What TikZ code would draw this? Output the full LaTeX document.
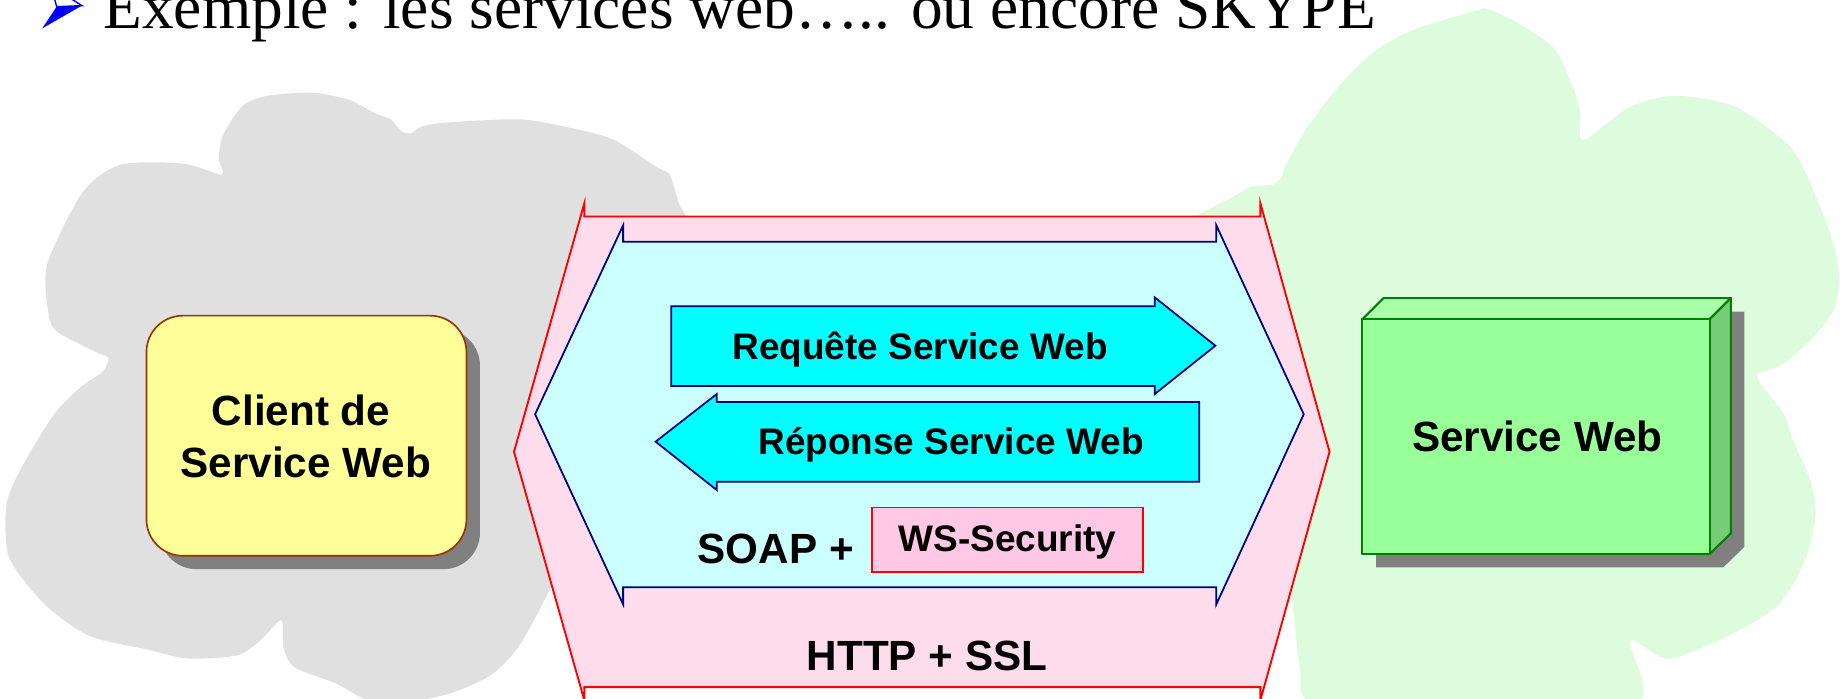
\documentclass[tikz,border=0pt]{standalone}
\usepackage{fontspec}
\setmainfont{Liberation Serif}
\setsansfont{Liberation Sans}
\definecolor{cloudgrey}{HTML}{E0E0E0}
\definecolor{cloudgreen}{HTML}{DDFCDD}
\definecolor{pinkfill}{HTML}{FDDCEC}
\definecolor{cyanlight}{HTML}{CCFFFF}
\definecolor{cyanarrow}{HTML}{00FFFF}
\definecolor{navyline}{HTML}{000080}
\definecolor{wsfill}{HTML}{FFC8E4}
\definecolor{yellowbox}{HTML}{FFFF99}
\definecolor{brownline}{HTML}{993300}
\definecolor{shadowgrey}{HTML}{808080}
\definecolor{cubefront}{HTML}{99FF99}
\definecolor{cubetop}{HTML}{AAFFAA}
\definecolor{cuberight}{HTML}{77CC77}
\definecolor{cubeline}{HTML}{008000}
\definecolor{bulletblue}{HTML}{0000FF}
\begin{document}
\begin{tikzpicture}[x=1pt,y=-1pt,
  lbls/.style={font=\sffamily\bfseries\fontsize{31.5}{38}\selectfont, inner sep=0pt, anchor=base},
  lbll/.style={font=\sffamily\bfseries\fontsize{36}{43.7}\selectfont, inner sep=0pt, anchor=base, align=center},
  redline/.style={draw=red, line width=1.6pt, line join=miter},
  navy/.style={draw=navyline, line width=1.5pt, line join=miter},
  blockarrow/.style={navy, fill=cyanarrow},
  cubeedge/.style={draw=cubeline, line width=1.8pt, line join=round}]
\clip (0,0) rectangle (1568,595);
\useasboundingbox (0,0) rectangle (1568,595);

% title bullet and text
\draw[bulletblue, fill=white, line width=1.2pt, line join=miter] (48.3,5.7) -- (69.8,4.8) -- (56,-4) -- (44,-10) -- cycle;
\fill[bulletblue] (48.3,5.7) -- (69.8,4.8) -- (36,24.2) -- cycle;
\node[anchor=base west, inner sep=0pt, font=\fontsize{54}{60}\selectfont] (title) at (88,24) {Exemple : les services web….. ou encore SKYPE};

% grey cloud
\fill[cloudgrey] plot[smooth cycle, tension=0.45] coordinates {
 (189,148.8) (186.4,135.3) (190,115.2) (207,90) (228,81.6) (266,79) (297,85)
 (320,96.7) (333,101.8) (342,111.8) (350,113.5) (359.5,107.8) (380,104.5)
 (445,101.8) (498.5,111.8) (525,120) (559,142) (570.6,148.8) (578,172)
 (585,200) (560,320) (500,440) (462.2,514.9) (441.3,551.9) (418.4,575.2)
 (380,592) (323.4,600) (285.3,582) (251,568.6) (241.6,551.9) (239.7,528.4)
 (220.7,546.8) (201.6,558.6) (159.8,561.2) (125.5,553.5) (76,541.8)
 (38,514.9) (7.6,474.7) (5.7,429.2) (19,397.4) (45.7,353.6) (68.5,330)
 (87.5,316.7) (92.4,305) (81.8,300) (49.5,283.2) (41.8,269.7) (40,226)
 (70.4,163.9) (102.7,140.4) (156,139.4)};

% green cloud
\fill[cloudgreen] plot[smooth cycle, tension=0.45] coordinates {
 (1000,200) (1023.4,182) (1052,167) (1068,158.6) (1084.5,157.5) (1093,150)
 (1095,142) (1113,110) (1143.6,70.2) (1174,41.7) (1206.4,24.7) (1256.6,9.5)
 (1267,7.6) (1292.5,19) (1324.7,41.7) (1341,75.9) (1346.4,94.9) (1349,119.5)
 (1389.2,91) (1428.7,81.6) (1479,91) (1523.8,123.3) (1540,150)
 (1557.8,193.5) (1566.8,227.6) (1565,258) (1554,277) (1534.6,297.8)
 (1514.8,313) (1496.9,320.6) (1520,352.8) (1527.4,373.7) (1543.5,411.6)
 (1547,440) (1538,478) (1514.8,516) (1471.6,542.5) (1421.4,561.5)
 (1389.3,546.3) (1394.6,600) (1250,610) (1120.3,600) (1107.8,569)
 (1102.4,523.6) (1090,420) (1060,300)};

% outer HTTP + SSL shape
\path[redline, fill=pinkfill] (498,173) -- (498,184.5) -- (1074,184.5) -- (1074,173)
  -- (1133,385) -- (1074,597) -- (1074,585.5) -- (498,585.5) -- (498,597)
  -- (438,385) -- cycle;
% inner SOAP shape
\path[navy, fill=cyanlight] (531,192) -- (531,206) -- (1036.5,206) -- (1036.5,192)
  -- (1111,353) -- (1036.5,515) -- (1036.5,500.5) -- (531,500.5) -- (531,515)
  -- (456,353) -- cycle;

% block arrows
\path[blockarrow] (572,261) -- (984,261) -- (984,253.4) -- (1035.7,294.6)
  -- (984,335.8) -- (984,329) -- (572,329) -- cycle;
\path[blockarrow] (1022,342.6) -- (610.8,342.6) -- (610.8,335.8) -- (558.7,376.4)
  -- (610.8,417.6) -- (610.8,410.5) -- (1022,410.5) -- cycle;
\node[lbls] (req) at (784,306.2) {Requête Service Web};
\node[lbls] (rep) at (810.5,387.7) {Réponse Service Web};

% SOAP + WS-Security
\node[draw=red, line width=1.4pt, fill=wsfill, minimum width=231pt, minimum height=54.8pt, inner sep=0pt] (ws) at (858.5,460) {};
\node[lbls] (wst) at (858.5,470) {WS-Security};
\node[lbll] (soap) at (661,480) {SOAP +};
\node[lbll] (http) at (790,571) {HTTP + SSL};

% client box
\fill[shadowgrey, rounded corners=31pt] (136.3,280.5) rectangle (409,485);
\draw[draw=brownline, line width=1.4pt, fill=yellowbox, rounded corners=31pt] (124.8,269) rectangle (397.5,473.6);
\node[lbll] (client1) at (256.5,363) {Client de};
\node[lbll] (client2) at (260.5,406.7) {Service Web};

% service cube
\fill[shadowgrey] (1172.6,283.5) -- (1191,265.5) -- (1486.5,265.5) -- (1486.5,466)
  -- (1468.5,483.5) -- (1172.6,483.5) -- cycle;
\path[cubeedge, fill=cubetop] (1161,272) -- (1179,254) -- (1475,254) -- (1457,272) -- cycle;
\path[cubeedge, fill=cuberight] (1457,272) -- (1475,254) -- (1475,454.5) -- (1457,472) -- cycle;
\path[cubeedge, fill=cubefront] (1161,272) rectangle (1457,472);
\node[lbll] (service) at (1310,385) {Service Web};
\end{tikzpicture}
\end{document}
